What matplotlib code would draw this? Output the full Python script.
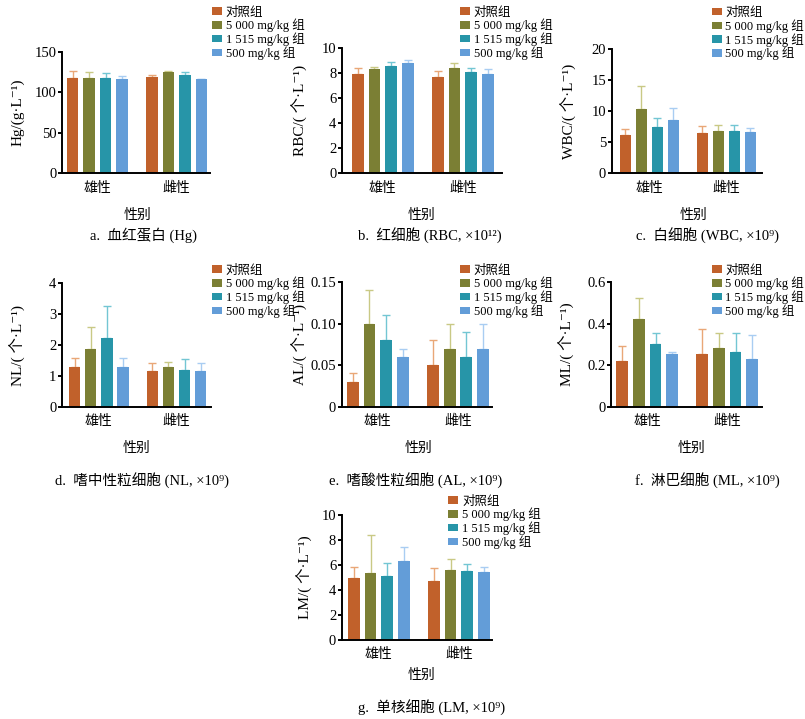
import matplotlib
matplotlib.use('Agg')
import matplotlib.pyplot as plt
import numpy as np
from matplotlib.patches import Patch

plt.rcParams['font.family'] = ['Liberation Serif', 'DejaVu Serif', 'Noto Sans CJK SC']

# ---------------- data ----------------
group_labels = ['对照组', '5 000 mg/kg 组', '1 515 mg/kg 组', '500 mg/kg 组']
sex_labels = ['雄性', '雌性']

hg_male_mean = [118.0, 117.0, 117.5, 116.5]
hg_male_sd = [8.0, 7.4, 5.8, 4.0]
hg_female_mean = [118.8, 125.5, 121.0, 116.0]
hg_female_sd = [3.0, 1.2, 3.5, 0.6]

rbc_male_mean = [7.95, 8.32, 8.56, 8.85]
rbc_male_sd = [0.50, 0.16, 0.35, 0.22]
rbc_female_mean = [7.68, 8.40, 8.08, 7.92]
rbc_female_sd = [0.48, 0.45, 0.37, 0.40]

wbc_male_mean = [6.2, 10.3, 7.4, 8.55]
wbc_male_sd = [0.9, 3.8, 1.5, 2.0]
wbc_female_mean = [6.45, 6.9, 6.8, 6.6]
wbc_female_sd = [1.2, 0.9, 1.0, 0.75]

nl_male_mean = [1.30, 1.87, 2.24, 1.30]
nl_male_sd = [0.27, 0.72, 1.02, 0.27]
nl_female_mean = [1.17, 1.30, 1.19, 1.17]
nl_female_sd = [0.26, 0.16, 0.35, 0.26]

al_male_mean = [0.03, 0.10, 0.08, 0.06]
al_male_sd = [0.01, 0.04, 0.03, 0.01]
al_female_mean = [0.05, 0.07, 0.06, 0.07]
al_female_sd = [0.03, 0.03, 0.03, 0.03]

ml_male_mean = [0.222, 0.423, 0.302, 0.254]
ml_male_sd = [0.072, 0.103, 0.052, 0.011]
ml_female_mean = [0.254, 0.283, 0.264, 0.232]
ml_female_sd = [0.122, 0.071, 0.090, 0.114]

lm_male_mean = [4.97, 5.32, 5.08, 6.34]
lm_male_sd = [0.89, 3.10, 1.04, 1.12]
lm_female_mean = [4.70, 5.60, 5.50, 5.45]
lm_female_sd = [1.08, 0.87, 0.54, 0.41]

hg_ticks = [0, 50, 100, 150]
rbc_ticks = [0, 2, 4, 6, 8, 10]
wbc_ticks = [0, 5, 10, 15, 20]
nl_ticks = [0, 1, 2, 3, 4]
al_ticks = [0, 0.05, 0.10, 0.15]
al_ticklabels = ['0', '0.05', '0.10', '0.15']
ml_ticks = [0, 0.2, 0.4, 0.6]
ml_ticklabels = ['0', '0.2', '0.4', '0.6']
lm_ticks = [0, 2, 4, 6, 8, 10]

# ---------------- style ----------------
bar_colors = ['#C1612B', '#7B7F34', '#2795A8', '#639DD8']
err_colors = ['#E9A777', '#C9C985', '#73C6D3', '#A9CDF2']

W, H = 805, 719
fig = plt.figure(figsize=(W / 100, H / 100), dpi=100)


def fx(px):
    return px / W


def fy(py):
    return 1 - py / H


panels = [
    dict(male=(hg_male_mean, hg_male_sd), female=(hg_female_mean, hg_female_sd),
         ticks=hg_ticks, labels=None, ylabel='Hg/(g·L⁻¹)',
         box=(62, 210, 51.7, 173.3), xlim=(-0.447, 1.42), ylab_off=37,
         leg=(212, 6.5), xlab=(137.5, 215), cap=(143, 235), caption='a.  血红蛋白 (Hg)'),
    dict(male=(rbc_male_mean, rbc_male_sd), female=(rbc_female_mean, rbc_female_sd),
         ticks=rbc_ticks, labels=None, ylabel='RBC/( 个·L⁻¹)',
         box=(342, 502, 48.3, 173.3), xlim=(-0.51, 1.49), ylab_off=35,
         leg=(460, 6.5), xlab=(421, 215), cap=(430, 235), caption='b.  红细胞 (RBC, ×10¹²)'),
    dict(male=(wbc_male_mean, wbc_male_sd), female=(wbc_female_mean, wbc_female_sd),
         ticks=wbc_ticks, labels=None, ylabel='WBC/( 个·L⁻¹)',
         box=(611.7, 761.7, 49.3, 173.3), xlim=(-0.487, 1.46), ylab_off=36,
         leg=(711.7, 7), xlab=(693, 215), cap=(707, 235), caption='c.  白细胞 (WBC, ×10⁹)'),
    dict(male=(nl_male_mean, nl_male_sd), female=(nl_female_mean, nl_female_sd),
         ticks=nl_ticks, labels=None, ylabel='NL/( 个·L⁻¹)',
         box=(62, 210.5, 283.3, 406.7), xlim=(-0.475, 1.437), ylab_off=37,
         leg=(212, 264.5), xlab=(136, 448), cap=(141.7, 480), caption='d.  嗜中性粒细胞 (NL, ×10⁹)'),
    dict(male=(al_male_mean, al_male_sd), female=(al_female_mean, al_female_sd),
         ticks=al_ticks, labels=al_ticklabels, ylabel='AL/( 个·L⁻¹)',
         box=(341.7, 491.7, 282, 406.7), xlim=(-0.45, 1.42), ylab_off=35,
         leg=(460, 264.5), xlab=(418, 448), cap=(416, 480), caption='e.  嗜酸性粒细胞 (AL, ×10⁹)'),
    dict(male=(ml_male_mean, ml_male_sd), female=(ml_female_mean, ml_female_sd),
         ticks=ml_ticks, labels=ml_ticklabels, ylabel='ML/( 个·L⁻¹)',
         box=(611, 762, 282.3, 406.7), xlim=(-0.4525, 1.435), ylab_off=37,
         leg=(711.7, 264.5), xlab=(691, 448), cap=(707.5, 480), caption='f.  淋巴细胞 (ML, ×10⁹)'),
    dict(male=(lm_male_mean, lm_male_sd), female=(lm_female_mean, lm_female_sd),
         ticks=lm_ticks, labels=None, ylabel='LM/( 个·L⁻¹)',
         box=(341.7, 491.7, 515, 639.7), xlim=(-0.464, 1.41), ylab_off=30,
         leg=(448.3, 495.5), xlab=(421, 675), cap=(431.7, 707), caption='g.  单核细胞 (LM, ×10⁹)'),
]

pitch = 0.208
width = 0.146
xg = np.arange(len(sex_labels))

for p in panels:
    l, r, t, b = p['box']
    ax = fig.add_axes([fx(l), fy(b), (r - l) / W, (b - t) / H])
    for k in range(len(group_labels)):
        means = [p['male'][0][k], p['female'][0][k]]
        sds = [p['male'][1][k], p['female'][1][k]]
        xs = xg + (k - 1.5) * pitch
        ax.bar(xs, means, width, color=bar_colors[k], zorder=2, linewidth=0)
        ax.errorbar(xs, means, yerr=[np.zeros(len(sds)), sds], fmt='none',
                    ecolor=err_colors[k], elinewidth=1.0, capsize=3, capthick=1.0, zorder=1)
    ax.set_xlim(*p['xlim'])
    ax.set_ylim(p['ticks'][0], p['ticks'][-1])
    ax.set_yticks(p['ticks'])
    if p['labels'] is not None:
        ax.set_yticklabels(p['labels'])
    ax.set_xticks(xg)
    ax.set_xticklabels(sex_labels)
    for s in ['top', 'right']:
        ax.spines[s].set_visible(False)
    for s in ['left', 'bottom']:
        ax.spines[s].set_linewidth(1.4)
        ax.spines[s].set_color('black')
    ax.tick_params(axis='y', direction='out', length=3, width=1.4, labelsize=10.5, pad=1)
    ax.tick_params(axis='x', length=0, labelsize=10, pad=6)
    ax.set_ylabel(p['ylabel'], fontsize=11)
    ax.yaxis.set_label_coords(-p['ylab_off'] / (r - l), 0.5)
    ax.patch.set_alpha(0)

    handles = [Patch(facecolor=c, edgecolor='none') for c in bar_colors]
    lx, ly = p['leg']
    fig.legend(handles, group_labels, loc='upper left', bbox_to_anchor=(fx(lx), fy(ly)),
               frameon=False, fontsize=9, handlelength=0.8, handleheight=0.55,
               handletextpad=0.3, labelspacing=0.01, borderpad=0, borderaxespad=0)

    fig.text(fx(p['xlab'][0]), fy(p['xlab'][1]), '性别', ha='center', va='center', fontsize=10)
    fig.text(fx(p['cap'][0]), fy(p['cap'][1]), p['caption'], ha='center', va='center', fontsize=10.5)

fig.savefig('out.png', dpi=100)
